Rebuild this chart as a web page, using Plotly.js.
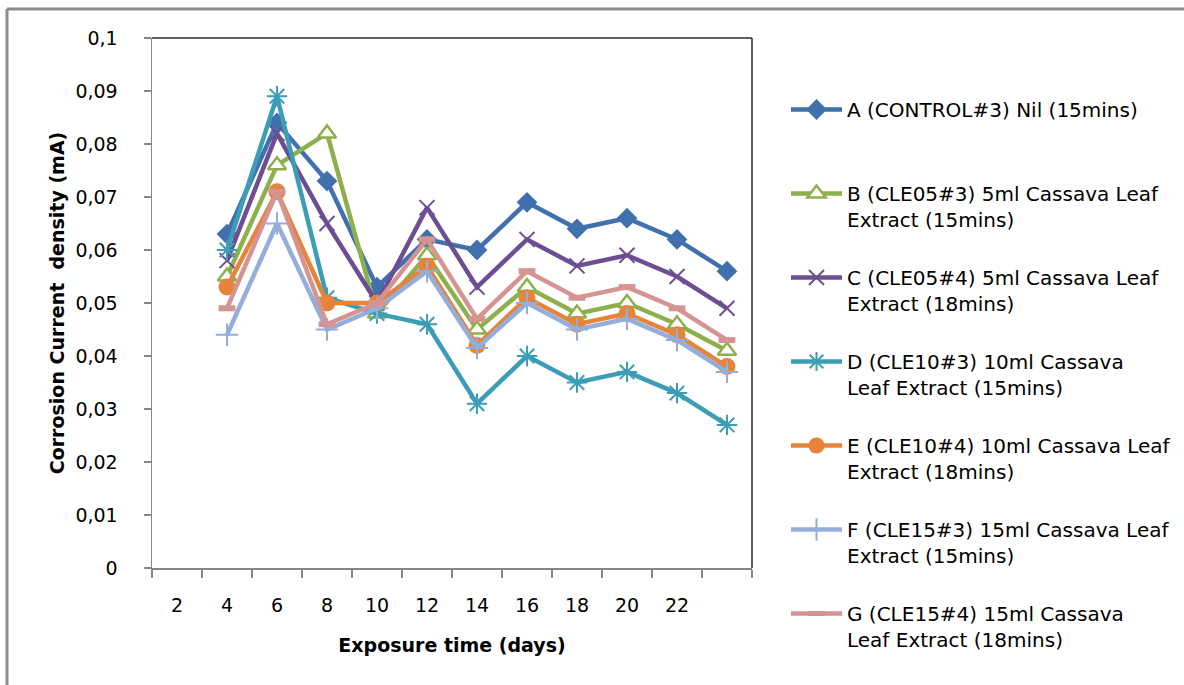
<!DOCTYPE html>
<html><head><meta charset="utf-8">
<script src="https://cdn.plot.ly/plotly-3.0.1.min.js"></script>
<style>html,body{margin:0;padding:0;background:#fff}#chart{width:1184px;height:685px}</style>
</head><body><div id="chart"></div>
<script>
// Exposure time (days)
const days = [4, 6, 8, 10, 12, 14, 16, 18, 20, 22, 24];
const xTickVals = [2, 4, 6, 8, 10, 12, 14, 16, 18, 20, 22];
const xTickLabels = ['2', '4', '6', '8', '10', '12', '14', '16', '18', '20', '22'];
const yTickVals = [0, 0.01, 0.02, 0.03, 0.04, 0.05, 0.06, 0.07, 0.08, 0.09, 0.1];
const yTickLabels = ['0', '0,01', '0,02', '0,03', '0,04', '0,05', '0,06', '0,07', '0,08', '0,09', '0,1'];

// Corrosion current density (mA)
const seriesA = [0.063, 0.084, 0.073, 0.053, 0.062, 0.060, 0.069, 0.064, 0.066, 0.062, 0.056];
const seriesB = [0.055, 0.076, 0.082, 0.048, 0.059, 0.045, 0.053, 0.048, 0.050, 0.046, 0.041];
const seriesC = [0.058, 0.082, 0.065, 0.050, 0.068, 0.053, 0.062, 0.057, 0.059, 0.055, 0.049];
const seriesD = [0.060, 0.089, 0.051, 0.048, 0.046, 0.031, 0.040, 0.035, 0.037, 0.033, 0.027];
const seriesE = [0.053, 0.071, 0.050, 0.050, 0.057, 0.042, 0.051, 0.046, 0.048, 0.044, 0.038];
const seriesF = [0.044, 0.065, 0.045, 0.049, 0.056, 0.0415, 0.050, 0.045, 0.047, 0.043, 0.037];
const seriesG = [0.049, 0.071, 0.046, 0.050, 0.062, 0.047, 0.056, 0.051, 0.053, 0.049, 0.043];

const seriesNames = [
  'A (CONTROL#3) Nil (15mins)<br>&nbsp;',
  'B (CLE05#3) 5ml Cassava Leaf<br>Extract (15mins)',
  'C (CLE05#4) 5ml Cassava Leaf<br>Extract (18mins)',
  'D (CLE10#3) 10ml Cassava<br>Leaf Extract (15mins)',
  'E (CLE10#4) 10ml Cassava Leaf<br>Extract (18mins)',
  'F (CLE15#3) 15ml Cassava Leaf<br>Extract (15mins)',
  'G (CLE15#4) 15ml Cassava<br>Leaf Extract (18mins)'
];

const FONT = 'DejaVu Sans, Verdana, sans-serif';
const gray = '#868686';
const lw = 4.5;

const cA = '#4170AE', cB = '#8DB04D', cC = '#6E4E93', cD = '#3C9DB6', cE = '#E5843A', cF = '#94AEDB', cG = '#D59492';

const markers = [
  {symbol: 'diamond', size: 16, color: cA},
  {symbol: 'triangle-up', size: 16, color: '#ffffff', line: {color: cB, width: 2.5}},
  {symbol: 'x-thin', size: 15, color: cC, line: {color: cC, width: 2}},
  {symbol: 'asterisk', size: 17, color: cD, line: {color: cD, width: 2}},
  {symbol: 'circle', size: 17, color: cE},
  {symbol: 'cross-thin', size: 16, color: cF, line: {color: cF, width: 2}},
  {symbol: 'line-ew', size: 12, color: cG, line: {color: cG, width: 6}}
];
const lineColors = [cA, cB, cC, cD, cE, cF, cG];
const allSeries = [seriesA, seriesB, seriesC, seriesD, seriesE, seriesF, seriesG];

const traces = allSeries.map((vals, i) => ({
  type: 'scatter', mode: 'lines+markers',
  x: days, y: vals, name: seriesNames[i], legendgroup: 'g' + i,
  line: {color: lineColors[i], width: lw},
  marker: markers[i]
}));

// paper spans x 152..1184, y 38..568 ; plot area is x 152..752
const PW = 1032;
const px2x = p => (p - 152) / PW;
const py2y = p => (568 - p) / 530;

const layout = {
  width: 1184, height: 685,
  margin: {l: 152, r: 0, t: 38, b: 117},
  paper_bgcolor: '#ffffff', plot_bgcolor: '#ffffff',
  font: {family: FONT, size: 19, color: '#000'},
  showlegend: true,
  legend: {
    x: px2x(786), y: py2y(90), xanchor: 'left', yanchor: 'top',
    font: {family: FONT, size: 20, color: '#000'},
    valign: 'top', tracegroupgap: 29, itemwidth: 51, maxheight: 1000,
    bgcolor: 'rgba(0,0,0,0)'
  },
  xaxis: {
    domain: [0, 600 / PW],
    range: [1, 25], showgrid: false, zeroline: false,
    showline: true, linecolor: gray, linewidth: 1.5,
    tickvals: xTickVals, ticktext: xTickLabels, ticks: '',
    ticklabelstandoff: 20,
    tickfont: {family: FONT, size: 19, color: '#000'},
    minor: {tickvals: [1, 3, 5, 7, 9, 11, 13, 15, 17, 19, 21, 23, 25], ticks: 'outside', ticklen: 8, tickcolor: gray, tickwidth: 1.5, showgrid: false},
    title: {text: '<b>Exposure time (days)</b>', font: {family: FONT, size: 19, color: '#000'}, standoff: 23},
    automargin: false, fixedrange: true
  },
  yaxis: {
    range: [0, 0.1], showgrid: false, zeroline: false,
    showline: true, linecolor: gray, linewidth: 1.5,
    tickvals: yTickVals, ticktext: yTickLabels,
    ticks: 'outside', ticklen: 7, tickcolor: gray, tickwidth: 1.5,
    ticklabelstandoff: 22,
    tickfont: {family: FONT, size: 19, color: '#000'},
    title: {text: '<b>Corrosion Current&nbsp; density (mA)</b>', font: {family: FONT, size: 19, color: '#000'}, standoff: 5},
    automargin: false, fixedrange: true
  },
  shapes: [
    {type: 'line', xref: 'x domain', yref: 'y domain', x0: 0, x1: 1, y0: 1, y1: 1, line: {color: '#2b2b2b', width: 1.5}},
    {type: 'line', xref: 'x domain', yref: 'y domain', x0: 1, x1: 1, y0: 0, y1: 1, line: {color: '#2b2b2b', width: 1.5}},
    {type: 'line', xref: 'paper', yref: 'paper', x0: px2x(7), x1: px2x(7), y0: py2y(690), y1: py2y(9), line: {color: '#8c8c8c', width: 3}},
    {type: 'line', xref: 'paper', yref: 'paper', x0: px2x(7), x1: px2x(1190), y0: py2y(9), y1: py2y(9), line: {color: '#8c8c8c', width: 3}}
  ]
};

Plotly.newPlot('chart', traces, layout, {displayModeBar: false, staticPlot: true});
</script>
</body></html>
